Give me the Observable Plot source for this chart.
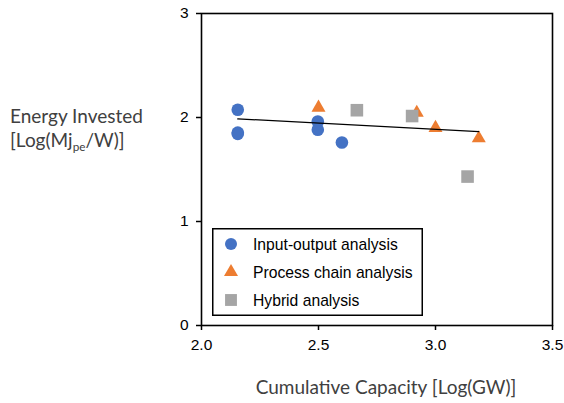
<!DOCTYPE html>
<html>
<head>
<meta charset="utf-8">
<script src="https://cdn.jsdelivr.net/npm/d3@7"></script>
<script src="https://cdn.jsdelivr.net/npm/@observablehq/plot@0.6"></script>
<style>
  body { margin: 0; background: #fff; }
  #wrap { position: relative; width: 564px; height: 403px; overflow: hidden; }
  #wrap svg.plot { position: absolute; left: 0; top: 0; }
  .title { position: absolute; font-family: Lato, "Open Sans", sans-serif; font-size: 19px; color: #404040; white-space: nowrap; }
  .title sub { font-size: 0.62em; line-height: 0; vertical-align: -0.3em; }
  #legend { position: absolute; left: 212px; top: 228px; }
</style>
</head>
<body>
<div id="wrap"></div>
<script>
// ---- data ----
const seriesNames = ["Input-output analysis", "Process chain analysis", "Hybrid analysis"];
const seriesColors = ["#4472C4", "#ED7D31", "#A5A5A5"];
const seriesSymbols = ["circle", "triangle", "square"];

const ioX = [2.155, 2.155, 2.155, 2.497, 2.497, 2.600];
const ioY = [2.075, 1.855, 1.843, 1.962, 1.882, 1.760];

const pcX = [2.500, 2.920, 3.000, 3.185];
const pcY = [2.095, 2.045, 1.900, 1.800];

const hyX = [2.664, 2.900, 3.137];
const hyY = [2.070, 2.014, 1.432];

const trendX = [2.155, 3.185];
const trendY = [1.987, 1.865];

const xTicks = [2.0, 2.5, 3.0, 3.5];
const yTicks = [0, 1, 2, 3];

const xTitle = "Cumulative Capacity [Log(GW)]";
const yTitleLine1 = "Energy Invested";
const yTitleLine2 = ["[Log(Mj", "pe", "/W)]"];

// ---- tables ----
const toRows = (xs, ys) => xs.map((x, i) => ({x, y: ys[i]}));
const io = toRows(ioX, ioY);
const pc = toRows(pcX, pcY);
const hy = toRows(hyX, hyY);
const trend = toRows(trendX, trendY);

const tickFont = {fontFamily: "'Liberation Sans', Arial, sans-serif", fontSize: 15.5, fill: "#000"};

const chart = Plot.plot({
  width: 564,
  height: 403,
  marginLeft: 201,
  marginRight: 12,
  marginTop: 13,
  marginBottom: 78,
  style: {background: "#fff", fontFamily: "'Liberation Sans', Arial, sans-serif", fontSize: "15.5px", color: "#000"},
  x: {domain: [2.0, 3.5]},
  y: {domain: [0, 3]},
  marks: [
    Plot.axisX({ticks: xTicks, tickFormat: d3.format(".1f"), tickSize: 5, tickPadding: 8, stroke: "#000", strokeWidth: 1.5, label: null, ...tickFont}),
    Plot.axisY({ticks: yTicks, tickFormat: d3.format("d"), tickSize: 5, tickPadding: 8, stroke: "#000", strokeWidth: 1.5, label: null, ...tickFont}),
    Plot.frame({stroke: "#000", strokeWidth: 1.6}),
    Plot.dot(io, {x: "x", y: "y", symbol: () => seriesSymbols[0], fill: seriesColors[0], r: 6.3}),
    Plot.dot(pc, {x: "x", y: "y", symbol: () => seriesSymbols[1], fill: seriesColors[1], r: 5.2}),
    Plot.dot(hy, {x: "x", y: "y", symbol: () => seriesSymbols[2], fill: seriesColors[2], r: 7.1}),
    Plot.line(trend, {x: "x", y: "y", stroke: "#000", strokeWidth: 1.3})
  ]
});
chart.classList.add("plot");

const wrap = document.getElementById("wrap");
wrap.appendChild(chart);

// ---- axis titles (HTML) ----
const yt = document.createElement("div");
yt.className = "title";
yt.style.left = "10px";
yt.style.top = "104px";
yt.style.lineHeight = "24px";
yt.innerHTML = `${yTitleLine1}<br>${yTitleLine2[0]}<sub>${yTitleLine2[1]}</sub>${yTitleLine2[2]}`;
wrap.appendChild(yt);

const xt = document.createElement("div");
xt.className = "title";
xt.style.left = "186px";
xt.style.width = "400px";
xt.style.textAlign = "center";
xt.style.top = "375px";
xt.style.lineHeight = "24px";
xt.textContent = xTitle;
wrap.appendChild(xt);

// ---- legend ----
const lw = 211, lh = 88;
const lg = d3.create("svg").attr("id", "legend").attr("width", lw).attr("height", lh);
lg.append("rect").attr("x", 0.75).attr("y", 0.75).attr("width", lw - 1.5).attr("height", lh - 1.5)
  .attr("fill", "#fff").attr("stroke", "#000").attr("stroke-width", 1.5);
const symMap = {circle: d3.symbolCircle, triangle: d3.symbolTriangle, square: d3.symbolSquare};
const symR = [6.0, 5.2, 6.7];
seriesNames.forEach((name, i) => {
  const cy = 16 + i * 28;
  lg.append("path")
    .attr("d", d3.symbol(symMap[seriesSymbols[i]], Math.PI * symR[i] * symR[i])())
    .attr("transform", `translate(19,${cy})`)
    .attr("fill", seriesColors[i]);
  lg.append("text").attr("x", 41).attr("y", cy + 6)
    .attr("font-family", "'Liberation Sans', Arial, sans-serif").attr("font-size", 15.7).attr("fill", "#000")
    .text(name);
});
wrap.appendChild(lg.node());
</script>
</body>
</html>
